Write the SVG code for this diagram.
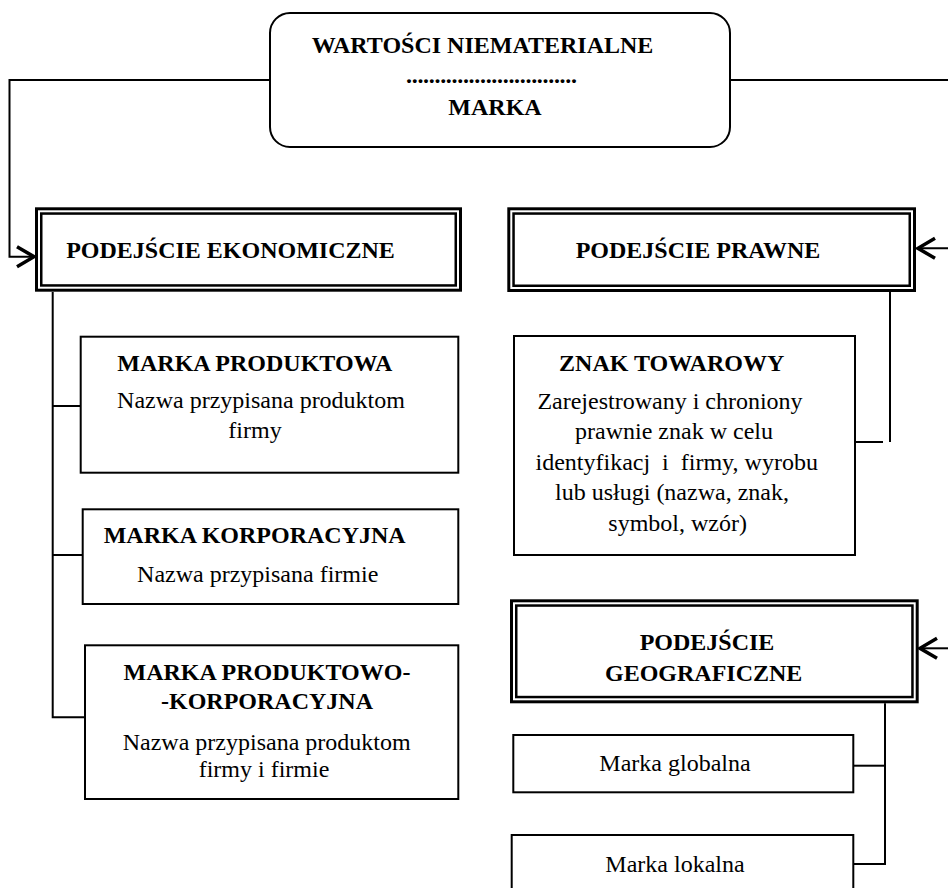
<svg xmlns="http://www.w3.org/2000/svg" width="948" height="888" viewBox="0 0 948 888">
<style>
  text { font-family: "Liberation Serif", "Times New Roman", serif; font-size: 24px; fill: #000; text-anchor: middle; }
  .b { font-weight: bold; }
  .box { fill: #fff; stroke: #000; stroke-width: 2; }
  .outer { fill: #fff; stroke: #000; stroke-width: 3; }
  .inner { fill: none; stroke: #000; stroke-width: 2.5; }
  .conn { fill: none; stroke: #000; stroke-width: 2; }
</style>
<defs>
  <marker id="arr" markerUnits="userSpaceOnUse" viewBox="-20 -12 22 24" markerWidth="22" markerHeight="24" refX="0" refY="0" orient="auto">
    <path d="M -17 -10 L 0 0 L -17 10" fill="none" stroke="#000" stroke-width="3.5"/>
  </marker>
</defs>
<rect width="948" height="888" fill="#fff"/>

<g id="connectors">
  <polyline class="conn" points="270,80 9.5,80 9.5,256.7 34,256.7" marker-end="url(#arr)"/>
  <polyline class="conn" points="730,80 952,80 952,648.3"/>
  <line class="conn" x1="952" y1="248.3" x2="918" y2="248.3" marker-end="url(#arr)"/>
  <line class="conn" x1="952" y1="648.3" x2="920" y2="648.3" marker-end="url(#arr)"/>
  <polyline class="conn" points="52.7,292 52.7,717.3 85,717.3"/>
  <line class="conn" x1="52.7" y1="406" x2="80.7" y2="406"/>
  <line class="conn" x1="52.7" y1="555" x2="82.7" y2="555"/>
  <line class="conn" x1="890" y1="292" x2="890" y2="442"/>
  <line class="conn" x1="855" y1="442" x2="883" y2="442"/>
  <polyline class="conn" points="885,703.3 885,864 853.3,864"/>
  <line class="conn" x1="853.3" y1="765.7" x2="885" y2="765.7"/>
</g>

<g id="wartosci">
  <rect class="box" x="270" y="13" width="460" height="134" rx="20" ry="20"/>
  <text class="b" x="482.5" y="53">WARTOŚCI NIEMATERIALNE</text>
  <text class="b" x="491.5" y="83" textLength="171" lengthAdjust="spacing">..............................</text>
  <text class="b" x="495" y="115">MARKA</text>
</g>

<g id="podejscie-ekonomiczne">
  <rect class="outer" x="36.5" y="208.8" width="424" height="81.4"/>
  <rect class="inner" x="41.25" y="213.55" width="414.5" height="71.9"/>
  <text class="b" x="230.5" y="258">PODEJŚCIE EKONOMICZNE</text>
</g>

<g id="podejscie-prawne">
  <rect class="outer" x="508.8" y="208.8" width="405.7" height="81.7"/>
  <rect class="inner" x="513.55" y="213.55" width="396.2" height="72.2"/>
  <text class="b" x="698" y="258">PODEJŚCIE PRAWNE</text>
</g>

<g id="podejscie-geograficzne">
  <rect class="outer" x="511.5" y="600.8" width="405.7" height="101"/>
  <rect class="inner" x="516.25" y="605.55" width="396.2" height="91.5"/>
  <text class="b" x="707" y="650">PODEJŚCIE</text>
  <text class="b" x="703.7" y="680.7">GEOGRAFICZNE</text>
</g>

<g id="marka-produktowa">
  <rect class="box" x="80.7" y="336.7" width="377.6" height="136"/>
  <text class="b" x="254.8" y="370.7">MARKA PRODUKTOWA</text>
  <text x="261" y="408.3">Nazwa przypisana produktom</text>
  <text x="255" y="438.3">firmy</text>
</g>

<g id="marka-korporacyjna">
  <rect class="box" x="82.7" y="509.3" width="375.6" height="94.7"/>
  <text class="b" x="254.7" y="543.3">MARKA KORPORACYJNA</text>
  <text x="257.7" y="581.7">Nazwa przypisana firmie</text>
</g>

<g id="marka-produktowo-korporacyjna">
  <rect class="box" x="85" y="645.3" width="373.3" height="153.7"/>
  <text class="b" x="267" y="680">MARKA PRODUKTOWO-</text>
  <text class="b" x="267" y="709">-KORPORACYJNA</text>
  <text x="266.7" y="750">Nazwa przypisana produktom</text>
  <text x="264" y="777.3">firmy i firmie</text>
</g>

<g id="znak-towarowy">
  <rect class="box" x="514" y="336" width="341" height="219"/>
  <text class="b" x="671.7" y="370.7">ZNAK TOWAROWY</text>
  <text x="670" y="409.3">Zarejestrowany i chroniony</text>
  <text x="674" y="439.3">prawnie znak w celu</text>
  <text x="676.7" y="470" xml:space="preserve">identyfikacj  i  firmy, wyrobu</text>
  <text x="672" y="500">lub usługi (nazwa, znak,</text>
  <text x="677.7" y="530.7">symbol, wzór)</text>
</g>

<g id="marka-globalna">
  <rect class="box" x="513.3" y="735" width="340" height="57.3"/>
  <text x="675" y="770.7">Marka globalna</text>
</g>

<g id="marka-lokalna">
  <rect class="box" x="511.7" y="835" width="341.6" height="70"/>
  <text x="675" y="871.7">Marka lokalna</text>
</g>
</svg>
